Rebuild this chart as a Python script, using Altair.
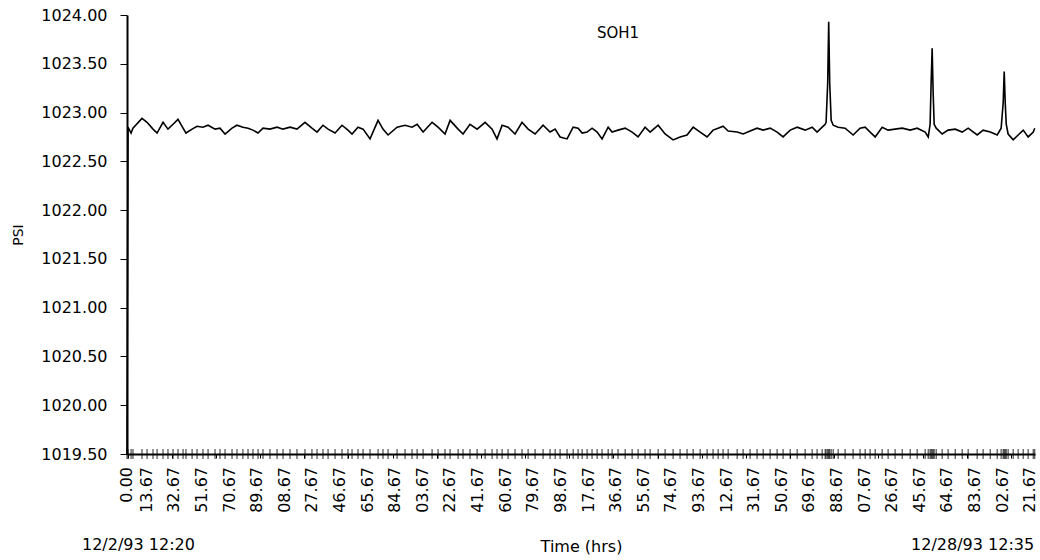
import altair as alt
import pandas as pd

# ---- data ----
hours = [
    0.0, 0.7, 2.8, 4.1, 10.3, 13.8, 17.9, 20.7, 24.8, 28.2,
    31.7, 35.1, 38.6, 40.6, 44.8, 48.2, 52.3, 55.8, 60.6, 64.0,
    67.5, 72.3, 75.7, 79.8, 83.3, 86.7, 90.2, 93.6, 98.4, 103.3,
    107.4, 112.2, 117.0, 122.5, 127.3, 130.8, 134.9, 138.4, 143.2, 148.0,
    152.1, 154.9, 159.0, 162.5, 167.3, 172.8, 176.2, 179.7, 185.9, 191.4,
    196.2, 199.7, 203.8, 210.0, 214.1, 218.9, 222.4, 227.9, 231.3, 236.1,
    241.0, 246.5, 251.3, 254.7, 258.2, 262.3, 267.1, 271.9, 276.1, 280.9,
    286.4, 291.2, 294.7, 298.1, 302.9, 307.1, 310.5, 313.3, 316.7, 320.1,
    323.6, 327.0, 331.2, 333.9, 338.0, 342.9, 347.7, 351.8, 356.6, 360.1,
    365.6, 370.4, 375.9, 380.7, 385.5, 389.7, 394.5, 399.3, 403.4, 406.9,
    410.3, 413.8, 420.0, 424.1, 428.9, 433.7, 437.9, 442.7, 447.5, 451.6,
    456.5, 461.3, 466.8, 471.6, 475.0, 478.5, 480.6, 481.2, 482.3, 483.0,
    483.7, 484.7, 486.1, 489.5, 494.3, 499.8, 504.6, 508.1, 511.5, 515.0,
    519.8, 523.9, 528.7, 533.6, 539.1, 543.9, 549.4, 551.5, 552.8, 553.5,
    554.2, 554.9, 555.6, 557.0, 561.1, 565.2, 570.1, 574.9, 579.0, 585.2,
    589.3, 594.2, 599.0, 601.7, 603.1, 603.8, 604.5, 605.2, 606.5, 610.0,
    613.4, 616.9, 620.3, 623.8, 624.8,
]
psi = [
    1019.50, 1022.85, 1022.79, 1022.84, 1022.94, 1022.90, 1022.83, 1022.79, 1022.90, 1022.83,
    1022.88, 1022.93, 1022.84, 1022.79, 1022.83, 1022.86, 1022.85, 1022.87, 1022.83, 1022.84,
    1022.78, 1022.84, 1022.87, 1022.85, 1022.84, 1022.82, 1022.79, 1022.84, 1022.83, 1022.85,
    1022.83, 1022.85, 1022.83, 1022.90, 1022.84, 1022.80, 1022.87, 1022.83, 1022.79, 1022.87,
    1022.82, 1022.78, 1022.85, 1022.83, 1022.73, 1022.92, 1022.83, 1022.77, 1022.85, 1022.87,
    1022.85, 1022.88, 1022.80, 1022.90, 1022.85, 1022.78, 1022.92, 1022.83, 1022.78, 1022.88,
    1022.83, 1022.90, 1022.83, 1022.73, 1022.87, 1022.85, 1022.78, 1022.90, 1022.83, 1022.78,
    1022.87, 1022.80, 1022.83, 1022.75, 1022.73, 1022.85, 1022.84, 1022.79, 1022.80, 1022.84,
    1022.80, 1022.73, 1022.85, 1022.80, 1022.82, 1022.84, 1022.80, 1022.75, 1022.85, 1022.80,
    1022.87, 1022.78, 1022.72, 1022.75, 1022.77, 1022.85, 1022.80, 1022.75, 1022.82, 1022.84,
    1022.86, 1022.81, 1022.80, 1022.78, 1022.81, 1022.84, 1022.82, 1022.84, 1022.80, 1022.75,
    1022.82, 1022.85, 1022.82, 1022.85, 1022.80, 1022.85, 1022.88, 1022.90, 1023.30, 1023.93,
    1023.30, 1022.92, 1022.87, 1022.85, 1022.84, 1022.77, 1022.84, 1022.85, 1022.80, 1022.75,
    1022.85, 1022.82, 1022.83, 1022.84, 1022.82, 1022.84, 1022.80, 1022.75, 1022.88, 1023.30,
    1023.66, 1023.20, 1022.88, 1022.84, 1022.78, 1022.82, 1022.83, 1022.80, 1022.84, 1022.77,
    1022.82, 1022.80, 1022.77, 1022.84, 1023.10, 1023.42, 1023.10, 1022.88, 1022.78, 1022.72,
    1022.77, 1022.82, 1022.75, 1022.80, 1022.84,
]

tick_hours = [0.0, 13.67, 32.67, 51.67, 70.67, 89.67, 108.67, 127.67, 146.67, 165.67,
              184.67, 203.67, 222.67, 241.67, 260.67, 279.67, 298.67, 317.67, 336.67,
              355.67, 374.67, 393.67, 412.67, 431.67, 450.67, 469.67, 488.67, 507.67,
              526.67, 545.67, 564.67, 583.67, 602.67, 621.67]
tick_labels = ["0.00", "13.67", "32.67", "51.67", "70.67", "89.67", "08.67", "27.67",
               "46.67", "65.67", "84.67", "03.67", "22.67", "41.67", "60.67", "79.67",
               "98.67", "17.67", "36.67", "55.67", "74.67", "93.67", "12.67", "31.67",
               "50.67", "69.67", "88.67", "07.67", "26.67", "45.67", "64.67", "83.67",
               "02.67", "21.67"]
y_ticks = [1019.5, 1020.0, 1020.5, 1021.0, 1021.5, 1022.0, 1022.5, 1023.0, 1023.5, 1024.0]

series_name = "SOH1"
series_name_hour = 338.0
series_name_psi = 1023.82
start_stamp = "12/2/93  12:20"
end_stamp = "12/28/93  12:35"

x_domain = [0, 625]
y_domain = [1019.5, 1024.0]

FONT = "DejaVu Sans"
INK = "black"

# minor axis tick marks (decoration): one per 1/10 of the label step
minor_step = 1.9
minor_ticks = [round(tick_hours[1] + minor_step * k, 2) for k in range(-7, 320)
               if 0 <= tick_hours[1] + minor_step * k <= x_domain[1]]

df = pd.DataFrame({"hours": hours, "psi": psi})
lab_df = pd.DataFrame({"hours": tick_hours, "lab": tick_labels})

x_enc = alt.X(
    "hours:Q",
    scale=alt.Scale(domain=x_domain, nice=False, zero=False),
    axis=alt.Axis(
        values=minor_ticks, labels=False,
        tickSize=4, tickColor=INK, tickWidth=1, domainColor=INK, domainWidth=2, grid=False,
        title="Time (hrs)", titleFont=FONT, titleFontSize=16, titleFontWeight="normal",
        titleColor=INK, titlePadding=80,
    ),
)
y_enc = alt.Y(
    "psi:Q",
    scale=alt.Scale(domain=y_domain, nice=False, zero=False),
    axis=alt.Axis(
        values=y_ticks, format=".2f",
        labelFont=FONT, labelFontSize=16, labelColor=INK, labelPadding=13,
        labelFlush=False, labelOverlap=False,
        tickSize=7, tickColor=INK, domainColor=INK, domainWidth=2, grid=False,
        title="PSI", titleFont=FONT, titleFontSize=14, titleFontWeight="normal",
        titleColor=INK, titlePadding=15,
    ),
)

line = alt.Chart(df).mark_line(color=INK, strokeWidth=1.6).encode(x=x_enc, y=y_enc)

barcode = alt.Chart(df).mark_tick(orient="vertical", size=10, thickness=1.2, color=INK).encode(
    x="hours:Q", y=alt.datum(y_domain[0])
)

x_labels = alt.Chart(lab_df).mark_text(
    font=FONT, fontSize=16, color=INK, angle=270, align="right", baseline="middle", dx=-13
).encode(x="hours:Q", y=alt.datum(y_domain[0]), text="lab:N")

name_df = pd.DataFrame({"hours": [series_name_hour], "psi": [series_name_psi], "txt": [series_name]})
name_text = alt.Chart(name_df).mark_text(font=FONT, fontSize=15, color=INK).encode(
    x="hours:Q", y="psi:Q", text="txt:N"
)

start_df = pd.DataFrame({"hours": [tick_hours[0]], "txt": [start_stamp]})
start_text = alt.Chart(start_df).mark_text(
    font=FONT, fontSize=16, color=INK, align="left", baseline="middle", dx=-45, dy=91
).encode(x="hours:Q", y=alt.datum(y_domain[0]), text="txt:N")

end_df = pd.DataFrame({"hours": [tick_hours[-1]], "txt": [end_stamp]})
end_text = alt.Chart(end_df).mark_text(
    font=FONT, fontSize=16, color=INK, align="right", baseline="middle", dx=4, dy=91
).encode(x="hours:Q", y=alt.datum(y_domain[0]), text="txt:N")

chart = alt.layer(line, barcode, x_labels, name_text, start_text, end_text).properties(
    width=908, height=439,
    autosize=alt.AutoSizeParams(type="none"),
    padding={"left": 127, "top": 15, "right": 5, "bottom": 106},
    background="white",
).configure_view(stroke=None)

chart.save("out.html", embed_options={"renderer": "svg", "actions": False})
